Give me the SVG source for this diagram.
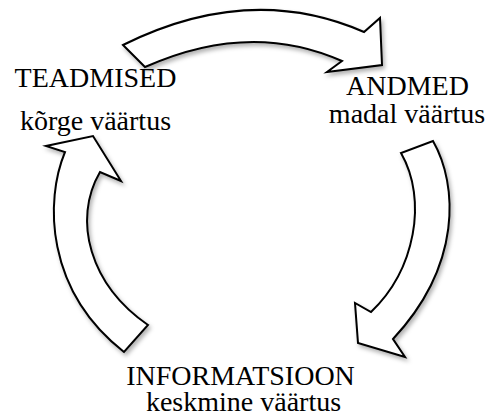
<svg xmlns="http://www.w3.org/2000/svg" width="492" height="418" viewBox="0 0 492 418">
<style>
.lbl{font-family:'Liberation Serif','Times New Roman',serif;font-size:28px;fill:#000;text-anchor:middle}
.arrow{fill:#fff;stroke:#000;stroke-width:2;stroke-linejoin:miter;filter:url(#sh)}
</style>
<defs>
<filter id="sh" x="-20%" y="-20%" width="140%" height="140%">
<feDropShadow dx="2" dy="3" stdDeviation="2" flood-color="#000" flood-opacity="0.3"/>
</filter>
</defs>
<rect width="492" height="418" fill="#fff"/>
<g id="connectors">
<path class="arrow" d="M123,45 Q250,-18 364,32 L380,18 L382,65 L327,72 L342,61 Q250,20 145,67 Z"/>
<path class="arrow" d="M433,141 C458,185 462,265 393,339 L405,357 L358,343 L355,303 L371,312 C415,270 428,200 401,153 Z"/>
<path class="arrow" d="M124,352 C45,290 45,200 65,152 L46,146 L93,136 L121,181 L100,172 C72,220 90,285 148,325 Z"/>
</g>
<g id="teadmised">
<text class="lbl" font-family="Liberation Serif" x="95.5" y="87">TEADMISED</text>
<text class="lbl" font-family="Liberation Serif" x="95.5" y="130">kõrge väärtus</text>
</g>
<g id="andmed">
<text class="lbl" font-family="Liberation Serif" x="407.5" y="95">ANDMED</text>
<text class="lbl" font-family="Liberation Serif" x="407" y="123">madal väärtus</text>
</g>
<g id="informatsioon">
<text class="lbl" font-family="Liberation Serif" x="240.5" y="385">INFORMATSIOON</text>
<text class="lbl" font-family="Liberation Serif" x="243.5" y="411">keskmine väärtus</text>
</g>
</svg>
